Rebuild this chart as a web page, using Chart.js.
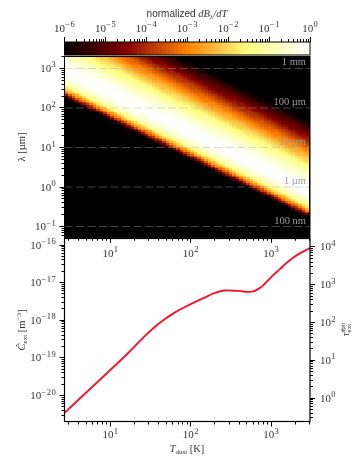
<!DOCTYPE html>
<html><head><meta charset="utf-8">
<script src="https://cdn.jsdelivr.net/npm/chart.js@4"></script>
<style>html,body{margin:0;padding:0;background:#fff}canvas{position:absolute;left:0;top:0}</style>
</head><body>
<canvas id="cb" width="363" height="465"></canvas>
<canvas id="hm" width="363" height="465"></canvas>
<canvas id="ln" width="363" height="465"></canvas>
<script>
// log10 of dust temperature [K] for each heat-map column
const tempExp=[.457,.500,.544,.587,.631,.674,.718,.761,.804,.848,
.891,.934,.978,1.021,1.065,1.108,1.152,1.195,1.238,1.282,
1.325,1.368,1.412,1.455,1.499,1.542,1.586,1.629,1.672,1.716,
1.760,1.803,1.847,1.890,1.934,1.977,2.021,2.064,2.107,2.151,
2.194,2.237,2.281,2.324,2.368,2.411,2.455,2.498,2.541,2.585,
2.628,2.671,2.715,2.758,2.802,2.845,2.889,2.932,2.975,3.019,
3.062,3.105,3.149,3.192,3.236,3.279,3.323,3.366,3.409,3.453];
// log10 of wavelength [um] for each heat-map row
const lambdaExp=[3.281,3.235,3.190,3.144,3.098,3.052,3.007,2.961,2.915,2.870,
2.824,2.778,2.733,2.687,2.641,2.595,2.550,2.504,2.458,2.413,
2.367,2.321,2.276,2.230,2.184,2.138,2.093,2.047,2.001,1.956,
1.910,1.864,1.819,1.773,1.727,1.681,1.636,1.590,1.544,1.499,
1.453,1.407,1.362,1.316,1.270,1.224,1.179,1.133,1.087,1.042,
.996,.950,.905,.859,.813,.767,.722,.676,.630,.585,
.539,.493,.448,.402,.356,.310,.265,.219,.173,.128,
.082,.036,-.009,-.055,-.101,-.147,-.192,-.238,-.284,-.329,
-.375,-.421,-.466,-.512,-.558,-.604,-.649,-.695,-.741,-.786,
-.832,-.878,-.923,-.969,-1.015,-1.061,-1.106,-1.152,-1.198,-1.243];
// band cross-section: log10(lambda*T) and log10(normalized dB/dT) across the diagonal band
const bandPos=[2.60,2.65,2.675,2.70,2.725,2.75,2.775,2.80,2.825,2.85,2.875,2.90,2.925,2.95,2.975,3.00,3.025,3.05,3.075,3.10,3.125,3.15,3.175,3.20,3.225,3.25,3.30,3.35,3.40,3.45,3.50,3.55,3.60,3.65,3.70,3.75,3.80,3.85,3.90,3.95,4.00,4.05,4.10,4.15,4.20,4.25,4.30,4.35,4.40,4.45,4.50,4.55,4.60,4.65,4.70,4.75,4.80,4.85,4.90,4.95,5.00,5.05,5.10,5.15,5.20];
const bandVal=[-8.4,-7.0,-6.37,-5.79,-5.25,-4.74,-4.26,-3.82,-3.42,-3.04,-2.70,-2.39,-2.10,-1.83,-1.59,-1.37,-1.17,-.99,-.83,-.68,-.55,-.44,-.34,-.26,-.19,-.13,-.05,-.01,0,-.03,-.08,-.16,-.26,-.38,-.51,-.66,-.81,-.98,-1.15,-1.33,-1.51,-1.69,-1.88,-2.07,-2.26,-2.45,-2.65,-2.85,-3.05,-3.24,-3.44,-3.64,-3.84,-4.04,-4.24,-4.44,-4.64,-4.84,-5.04,-5.24,-5.44,-5.64,-5.84,-6.04,-6.24];
// colour bar steps, log10 of normalized value
const colorbarExp=[-5.95,-5.85,-5.75,-5.65,-5.55,-5.45,-5.35,-5.25,-5.15,-5.05,-4.95,-4.85,-4.75,-4.65,-4.55,-4.45,-4.35,-4.25,-4.15,-4.05,-3.95,-3.85,-3.75,-3.65,-3.55,-3.45,-3.35,-3.25,-3.15,-3.05,-2.95,-2.85,-2.75,-2.65,-2.55,-2.45,-2.35,-2.25,-2.15,-2.05,-1.95,-1.85,-1.75,-1.65,-1.55,-1.45,-1.35,-1.25,-1.15,-1.05,-.95,-.85,-.75,-.65,-.55,-.45,-.35,-.25,-.15,-.05];
// reference wavelengths
const refLambda=[1000,100,10,1,.1];
const refLabels=['1 mm','100 µm','10 µm','1 µm','100 nm'];
// extinction curve: log10 T [K], log10 C [m^-3]
const curveLogT=[.43,.6,.8,1.0,1.204,1.391,1.597,1.805,2.012,2.219,2.302,2.418,2.468,2.592,2.759,2.862,2.93,3.007,3.1,3.214,3.35,3.484];
const curveLogC=[-20.46,-20.12,-19.72,-19.32,-18.91,-18.5,-18.1,-17.79,-17.56,-17.35,-17.27,-17.21,-17.205,-17.22,-17.24,-17.14,-17.01,-16.84,-16.66,-16.44,-16.23,-16.08];
// major tick values
const tempTicks=[10,100,1000];
const lambdaTicks=[.1,1,10,100,1000];
const colorbarTicks=[1e-6,1e-5,1e-4,1e-3,1e-2,1e-1,1];
const cextTicks=[1e-20,1e-19,1e-18,1e-17,1e-16];
const tauTicks=[1,10,100,1000,10000];

const SERIF='"Liberation Serif"',SANS='"Liberation Sans"',INK='#333';
function afm(v){const x=Math.min(1,Math.max(0,(v+6)/6)),c=t=>Math.round(255*Math.min(1,Math.max(0,t)));return `rgb(${c(2*x)},${c(2*x-.5)},${c(2*x-1)})`;}
const swatches={};
function swatch(v,w,h){const q=Math.round(v*40)/40,k=q+'|'+w+'|'+h;if(!swatches[k]){const c=document.createElement('canvas');c.width=w;c.height=h;const g=c.getContext('2d');g.fillStyle=afm(q);g.fillRect(0,0,w,h);swatches[k]=c;}return swatches[k];}
function bandAt(u){let b=0,d=1e9;bandPos.forEach((p,i)=>{const e=Math.abs(p-u);if(e<d){d=e;b=i;}});return u<bandPos[0]?-9:(u>5.2?-7:bandVal[b]);}
function allTicks(lo,hi){const o=[];for(let e=Math.floor(Math.log10(lo));e<=Math.ceil(Math.log10(hi));e++)for(let m=1;m<=9;m++){const v=m*Math.pow(10,e);if(v>=lo*.999&&v<=hi*1.001)o.push(v);}return o;}
function axis(pos,min,max,majors,size){return {type:'logarithmic',position:pos,min,max,
  afterBuildTicks:s=>{s.ticks=majors.map(value=>({value}));},
  afterFit:s=>{if(s.isHorizontal())s.height=size;else s.width=size;},
  grid:{display:false},border:{display:false},ticks:{display:false,autoSkip:false}};}
function drawTicks(ctx,s,majors,edge){const h=s.isHorizontal();ctx.save();ctx.fillStyle='#000';
  const mj=new Set(majors.map(v=>Math.round(Math.log10(v)*1000)));
  allTicks(s.min,s.max).forEach(v=>{const p=Math.round(s.getPixelForValue(v)-.5),L=mj.has(Math.round(Math.log10(v)*1000))?5:3;
    if(h){if(s.position==='top')ctx.fillRect(p,edge-L,1,L);else ctx.fillRect(p,edge,1,L);}
    else{if(s.position==='left')ctx.fillRect(edge-L,p,L,1);else ctx.fillRect(edge,p,L,1);}});
  ctx.restore();}
// tick label as text: "10" with a raised exponent
function powerLabels(ctx,s,majors,at){ctx.save();ctx.fillStyle=INK;ctx.textBaseline='alphabetic';ctx.textAlign='left';
  majors.forEach(v=>{const e=String(Math.round(Math.log10(v))).replace('-','−'),base='10';
    ctx.font='11px '+SERIF;const a=ctx.measureText(base).width;ctx.font='8.5px '+SERIF;const b=ctx.measureText(e).width+e.length*.5;const w=a+b;
    let x,y;const p=s.getPixelForValue(v);
    if(s.isHorizontal()){x=p-w/2;y=at;}else if(s.position==='left'){x=at-w;y=p+3.5;}else{x=at;y=p+3.5;}
    ctx.font='11px '+SERIF;ctx.fillText(base,x,y);ctx.font='8.5px '+SERIF;ctx.letterSpacing='.5px';ctx.fillText(e,x+a+.3,y-4.5);ctx.letterSpacing='0px';});
  ctx.restore();}
function runs(ctx,x,y,rot,list){ctx.save();ctx.translate(x,y);ctx.rotate(rot);ctx.fillStyle=INK;ctx.textBaseline='alphabetic';ctx.textAlign='left';
  let w=0;list.forEach(r=>{ctx.font=r.f;r.w=r.stack?0:ctx.measureText(r.t).width;w+=r.w;});let c=-w/2;
  list.forEach(r=>{ctx.font=r.f;ctx.fillText(r.t,c,r.d||0);c+=r.w;});ctx.restore();}
const frame=(c,w)=>{const a=c.chartArea,g=c.ctx;g.save();g.strokeStyle='#000';g.lineWidth=w;g.strokeRect(a.left,a.top,a.right-a.left,a.bottom-a.top);g.restore();};
const base={responsive:false,animation:false,events:[],plugins:{legend:{display:false},tooltip:{enabled:false}}};
const I='italic 10.5px '+SERIF,R='10.5px '+SERIF,SUBR='7px '+SERIF;

// colour bar
new Chart(document.getElementById('cb'),{type:'scatter',
 data:{datasets:[{data:colorbarExp.map(e=>({x:Math.pow(10,e),y:.5,v:e})),pointRadius:1,
   pointStyle:c=>swatch(c.raw?c.raw.v:0,6,14)}]},
 options:Object.assign({},base,{layout:{autoPadding:false,padding:{left:64.5,right:53,top:12,bottom:410}},
  scales:{x:axis('top',1e-6,1,colorbarTicks,30),y:{type:'linear',min:0,max:1,display:false}}}),
 plugins:[{id:'cbx',afterDraw(c){frame(c,1);drawTicks(c.ctx,c.scales.x,colorbarTicks,c.chartArea.top);powerLabels(c.ctx,c.scales.x,colorbarTicks,31.5);
   runs(c.ctx,187,17,0,[{t:'normalized ',f:'10px '+SANS},{t:'dB',f:I},{t:'λ',f:SUBR,d:2},{t:'/dT',f:I}]);}}]});

// heat map
const cells=[];
lambdaExp.forEach(l=>tempExp.forEach(t=>cells.push({x:Math.pow(10,t),y:Math.pow(10,l),v:bandAt(t+l)})));
const T_MIN=2.69,T_MAX=3050,L_MIN=.0518,L_MAX=2012;
new Chart(document.getElementById('hm'),{type:'scatter',
 data:{datasets:[
  ...refLambda.map(y=>({order:1,showLine:true,pointRadius:0,borderColor:'rgba(163,163,163,.43)',borderWidth:1,borderDash:[8,3.5],data:[{x:T_MIN,y},{x:T_MAX,y}]})),
  {order:2,data:cells,pointRadius:1,pointStyle:c=>swatch(c.raw?c.raw.v:-7,4,2)}]},
 options:Object.assign({},base,{layout:{autoPadding:false,padding:{left:24.5,right:53,top:56.5,bottom:197.2}},
  scales:{x:axis('bottom',T_MIN,T_MAX,tempTicks,30),y:axis('left',L_MIN,L_MAX,lambdaTicks,40)}}),
 plugins:[{id:'hmx',beforeDatasetsDraw(c){const a=c.chartArea,g=c.ctx;g.save();g.fillStyle='#000';g.fillRect(a.left,a.top,a.right-a.left,a.bottom-a.top);g.restore();},
  afterDatasetsDraw(c){const g=c.ctx,y=c.scales.y;g.save();g.fillStyle='#9c9c9c';g.font='10.5px '+SERIF;g.textAlign='right';g.textBaseline='bottom';
   refLambda.forEach((v,i)=>g.fillText(refLabels[i],306,y.getPixelForValue(v)-.5));g.restore();},
  afterDraw(c){frame(c,1);drawTicks(c.ctx,c.scales.x,tempTicks,c.chartArea.bottom);drawTicks(c.ctx,c.scales.y,lambdaTicks,c.chartArea.left);
   powerLabels(c.ctx,c.scales.x,tempTicks,256.5);powerLabels(c.ctx,c.scales.y,lambdaTicks,56);
   runs(c.ctx,25,147,-Math.PI/2,[{t:'λ [µm]',f:R}]);}}]});

// extinction curve
new Chart(document.getElementById('ln'),{type:'line',
 data:{datasets:[{parsing:false,data:curveLogT.map((t,i)=>({x:Math.pow(10,t),y:Math.pow(10,curveLogC[i])})),borderColor:'#f5142d',borderWidth:1.9,pointRadius:0,tension:.4,clip:false,xAxisID:'x',yAxisID:'y'}]},
 options:Object.assign({},base,{layout:{autoPadding:false,padding:{left:24.5,right:13,top:238.5,bottom:13.5}},
  scales:{x:axis('bottom',T_MIN,T_MAX,tempTicks,30),
   y:axis('left',Math.pow(10,-20.69),Math.pow(10,-15.827),cextTicks,40),
   y2:axis('right',Math.pow(10,-.622),Math.pow(10,4.225),tauTicks,40)}}),
 plugins:[{id:'lnx',afterDraw(c){const a=c.chartArea;frame(c,1.2);drawTicks(c.ctx,c.scales.x,tempTicks,a.bottom);drawTicks(c.ctx,c.scales.y,cextTicks,a.left);drawTicks(c.ctx,c.scales.y2,tauTicks,a.right);
   powerLabels(c.ctx,c.scales.x,tempTicks,438);powerLabels(c.ctx,c.scales.y,cextTicks,56);powerLabels(c.ctx,c.scales.y2,tauTicks,320);
   runs(c.ctx,187,452,0,[{t:'T',f:I},{t:'dust',f:SUBR,d:2},{t:' [K]',f:R}]);
   runs(c.ctx,25,330,-Math.PI/2,[{t:'Ĉ',f:I},{t:'ext',f:SUBR,d:2},{t:' [m',f:R},{t:'−3',f:SUBR,d:-4},{t:']',f:R}]);
   runs(c.ctx,349,330,-Math.PI/2,[{t:'τ̂',f:I},{t:'sph',f:SUBR,d:-4,stack:true},{t:'ext',f:SUBR,d:2}]);}}]});
</script>
</body></html>
